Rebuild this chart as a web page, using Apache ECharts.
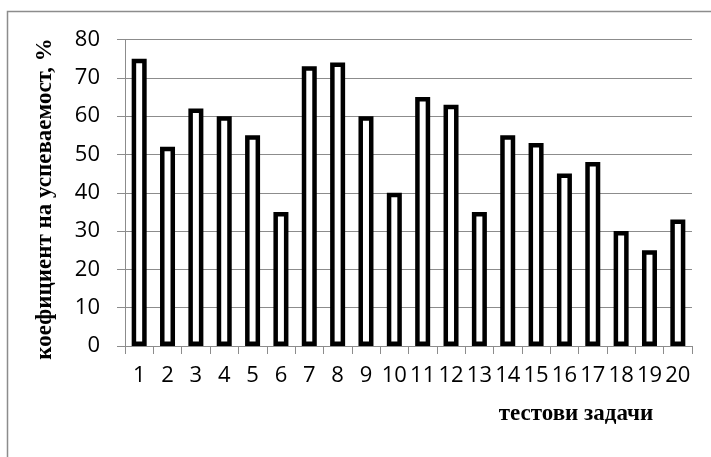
<!DOCTYPE html>
<html>
<head>
<meta charset="utf-8">
<script src="https://cdn.jsdelivr.net/npm/echarts@6/dist/echarts.min.js"></script>
<style>html,body{margin:0;padding:0;background:#fff}#c{width:711px;height:457px}</style>
</head>
<body>
<div id="c"></div>
<script>
const categories = ['1','2','3','4','5','6','7','8','9','10','11','12','13','14','15','16','17','18','19','20'];
const values = [75, 52, 62, 60, 55, 35, 73, 74, 60, 40, 65, 63, 35, 55, 53, 45, 48, 30, 25, 33];
const yTicks = { min: 0, max: 80, interval: 10 };
const yTitle = 'коефициент на успеваемост, %';
const xTitle = 'тестови задачи';

const chart = echarts.init(document.getElementById('c'), null, { renderer: 'canvas' });
const gray = '#8c8c8c';
const serifBold = 'bold 23px "Liberation Serif", "Times New Roman", serif';
chart.setOption({
  animation: false,
  backgroundColor: '#fff',
  grid: { left: 125, right: 19, top: 39.5, bottom: 111, containLabel: false },
  graphic: [
    { type: 'rect', shape: { x: 7.5, y: 11.5, width: 720, height: 470 }, style: { fill: 'none', stroke: gray, lineWidth: 1.5 }, silent: true },
    { type: 'text', x: 576, y: 414, style: { text: xTitle, font: serifBold, fill: '#000', align: 'center', verticalAlign: 'middle' } },
    { type: 'text', x: 45, y: 199, rotation: Math.PI / 2, style: { text: yTitle, font: serifBold, fill: '#000', align: 'center', verticalAlign: 'middle' } }
  ],
  xAxis: {
    type: 'category',
    data: categories,
    axisLine: { lineStyle: { color: gray, width: 1 } },
    axisTick: { show: true, length: 8, lineStyle: { color: gray } },
    axisLabel: { color: '#000', fontSize: 22, fontFamily: '"Open Sans", sans-serif', margin: 19, interval: 0 }
  },
  yAxis: {
    type: 'value',
    min: yTicks.min, max: yTicks.max, interval: yTicks.interval,
    axisLine: { show: true, lineStyle: { color: gray, width: 1 } },
    axisTick: { show: true, length: 8, lineStyle: { color: gray } },
    axisLabel: { color: '#000', fontSize: 22, fontFamily: '"Open Sans", sans-serif', margin: 25 },
    splitLine: { lineStyle: { color: gray, width: 1.2 } }
  },
  series: [{
    type: 'bar',
    data: values,
    barWidth: 15,
    itemStyle: { color: '#fff', borderColor: '#000', borderWidth: 4.5 }
  }]
});
</script>
</body>
</html>
